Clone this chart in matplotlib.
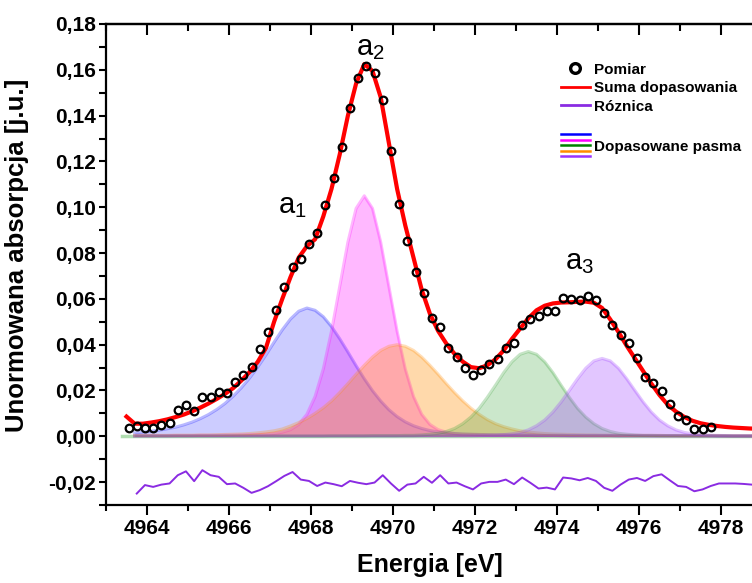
import numpy as np
import matplotlib
matplotlib.use("Agg")
import matplotlib.pyplot as plt
from matplotlib.ticker import MultipleLocator, FuncFormatter
from matplotlib.legend_handler import HandlerBase
from matplotlib.lines import Line2D

plt.rcParams['font.family'] = ['Liberation Sans', 'DejaVu Sans']

# Pomiar (punkty co 0.2 eV od 4963.55)
meas_x0 = 4963.55
meas_y = [0.0034, 0.0045, 0.0038, 0.0036, 0.0049, 0.0060, 0.0113, 0.0138, 0.0110, 0.0173,
          0.0170, 0.0193, 0.0190, 0.0237, 0.0269, 0.0304, 0.0379, 0.0454, 0.0552, 0.0651,
          0.0741, 0.0774, 0.0840, 0.0888, 0.1010, 0.1126, 0.1264, 0.1435, 0.1563, 0.1615,
          0.1586, 0.1468, 0.1246, 0.1015, 0.0854, 0.0716, 0.0626, 0.0517, 0.0479, 0.0385,
          0.0346, 0.0299, 0.0266, 0.0291, 0.0317, 0.0339, 0.0386, 0.0407, 0.0487, 0.0510,
          0.0523, 0.0546, 0.0546, 0.0604, 0.0600, 0.0597, 0.0611, 0.0596, 0.0539, 0.0484,
          0.0444, 0.0408, 0.0343, 0.0261, 0.0232, 0.0197, 0.0142, 0.0088, 0.0070, 0.0032,
          0.0031, 0.0041]

# Suma dopasowania (co 0.2 eV od 4963.5)
fit_x0 = 4963.5
fit_y = [0.0086, 0.0055, 0.0055, 0.0060, 0.0066, 0.0074, 0.0084, 0.0095, 0.0109, 0.0125,
         0.0143, 0.0163, 0.0185, 0.0210, 0.0243, 0.0280, 0.0325, 0.0385, 0.0500, 0.0600,
         0.0695, 0.0780, 0.0830, 0.0860, 0.0960, 0.1080, 0.1230, 0.1400, 0.1540, 0.1625,
         0.1595, 0.1480, 0.1280, 0.1080, 0.0920, 0.0780, 0.0640, 0.0535, 0.0460, 0.0405,
         0.0360, 0.0326, 0.0302, 0.0297, 0.0310, 0.0336, 0.0375, 0.0425, 0.0470, 0.0515,
         0.0550, 0.0570, 0.0580, 0.0584, 0.0585, 0.0587, 0.0588, 0.0583, 0.0560, 0.0510,
         0.0455, 0.0395, 0.0340, 0.0285, 0.0230, 0.0180, 0.0138, 0.0108, 0.0085, 0.0068,
         0.0057, 0.0050, 0.0045, 0.0041, 0.0038, 0.0036, 0.0034, 0.0033, 0.0032]

# Roznica (co 0.2 eV od 4963.75)
diff_x0 = 4963.75
diff_y = [-0.0250, -0.0213, -0.0221, -0.0211, -0.0206, -0.0170, -0.0153, -0.0196, -0.0148, -0.0170,
          -0.0177, -0.0209, -0.0206, -0.0225, -0.0247, -0.0235, -0.0218, -0.0196, -0.0173, -0.0156,
          -0.0189, -0.0195, -0.0217, -0.0202, -0.0209, -0.0218, -0.0195, -0.0203, -0.0209, -0.0202,
          -0.0170, -0.0206, -0.0238, -0.0211, -0.0206, -0.0177, -0.0203, -0.0170, -0.0206, -0.0202,
          -0.0218, -0.0232, -0.0206, -0.0199, -0.0199, -0.0189, -0.0209, -0.0180, -0.0203, -0.0228,
          -0.0224, -0.0232, -0.0180, -0.0184, -0.0192, -0.0182, -0.0195, -0.0225, -0.0238, -0.0211,
          -0.0189, -0.0182, -0.0195, -0.0174, -0.0166, -0.0192, -0.0217, -0.0221, -0.0240, -0.0232,
          -0.0217, -0.0206, -0.0206, -0.0206, -0.0208, -0.0211, -0.0213]

# Dopasowane pasma (co 0.2 eV od 4963.7)
band_x0 = 4963.7
band_blue = [0.0015, 0.0018, 0.0022, 0.0027, 0.0033, 0.0040, 0.0050, 0.0062, 0.0077, 0.0095,
             0.0117, 0.0143, 0.0175, 0.0212, 0.0254, 0.0302, 0.0355, 0.0411, 0.0465, 0.0512,
             0.0546, 0.0560, 0.0550, 0.0522, 0.0479, 0.0426, 0.0368, 0.0308, 0.0251, 0.0199,
             0.0154, 0.0116, 0.0086, 0.0063, 0.0046, 0.0034, 0.0025, 0.0019, 0.0015, 0.0012,
             0.0010, 0.0009, 0.0008, 0.0007, 0.0006, 0.0006, 0.0005, 0.0005, 0.0005, 0.0004,
             0.0004, 0.0004, 0.0004, 0.0003, 0.0003, 0.0003, 0.0003, 0.0003, 0.0003, 0.0002,
             0.0002, 0.0002, 0.0002, 0.0002, 0.0002, 0.0002, 0.0002, 0.0002, 0.0002, 0.0002,
             0.0002, 0.0001, 0.0001, 0.0001, 0.0001, 0.0001, 0.0001, 0.0001]
band_magenta = [0.0002, 0.0002, 0.0002, 0.0002, 0.0002, 0.0003, 0.0003, 0.0003, 0.0004, 0.0004,
                0.0004, 0.0005, 0.0005, 0.0006, 0.0007, 0.0008, 0.0009, 0.0012, 0.0018, 0.0029,
                0.0052, 0.0096, 0.0174, 0.0294, 0.0459, 0.0654, 0.0848, 0.0995, 0.1050, 0.0995,
                0.0848, 0.0654, 0.0459, 0.0294, 0.0174, 0.0096, 0.0052, 0.0029, 0.0018, 0.0012,
                0.0009, 0.0008, 0.0007, 0.0006, 0.0005, 0.0005, 0.0004, 0.0004, 0.0004, 0.0003,
                0.0003, 0.0003, 0.0002, 0.0002, 0.0002, 0.0002, 0.0002, 0.0002, 0.0002, 0.0002,
                0.0002, 0.0002, 0.0002, 0.0001, 0.0001, 0.0001, 0.0001, 0.0001, 0.0001, 0.0001,
                0.0001, 0.0001, 0.0001, 0.0001, 0.0001, 0.0001, 0.0001, 0.0001]
band_orange = [0.0004, 0.0004, 0.0004, 0.0004, 0.0004, 0.0005, 0.0005, 0.0005, 0.0006, 0.0006,
               0.0007, 0.0008, 0.0009, 0.0010, 0.0012, 0.0015, 0.0019, 0.0024, 0.0032, 0.0045,
               0.0060, 0.0078, 0.0100, 0.0125, 0.0155, 0.0191, 0.0230, 0.0271, 0.0310, 0.0346,
               0.0375, 0.0393, 0.0400, 0.0393, 0.0375, 0.0346, 0.0310, 0.0271, 0.0230, 0.0191,
               0.0155, 0.0123, 0.0096, 0.0073, 0.0055, 0.0042, 0.0032, 0.0024, 0.0019, 0.0015,
               0.0012, 0.0010, 0.0009, 0.0008, 0.0007, 0.0006, 0.0006, 0.0005, 0.0005, 0.0005,
               0.0004, 0.0004, 0.0004, 0.0004, 0.0004, 0.0003, 0.0003, 0.0003, 0.0003, 0.0003,
               0.0003, 0.0003, 0.0002, 0.0002, 0.0002, 0.0002, 0.0002, 0.0002]
band_green = [0.0001, 0.0001, 0.0001, 0.0001, 0.0001, 0.0001, 0.0001, 0.0001, 0.0001, 0.0001,
              0.0001, 0.0001, 0.0001, 0.0001, 0.0001, 0.0001, 0.0001, 0.0001, 0.0001, 0.0001,
              0.0001, 0.0001, 0.0001, 0.0001, 0.0002, 0.0002, 0.0002, 0.0002, 0.0002, 0.0003,
              0.0003, 0.0003, 0.0003, 0.0004, 0.0004, 0.0006, 0.0009, 0.0013, 0.0021, 0.0034,
              0.0055, 0.0084, 0.0122, 0.0170, 0.0223, 0.0278, 0.0325, 0.0358, 0.0370, 0.0358,
              0.0325, 0.0278, 0.0223, 0.0170, 0.0122, 0.0084, 0.0055, 0.0034, 0.0021, 0.0013,
              0.0009, 0.0006, 0.0004, 0.0004, 0.0003, 0.0003, 0.0003, 0.0002, 0.0002, 0.0002,
              0.0002, 0.0002, 0.0002, 0.0001, 0.0001, 0.0001, 0.0001, 0.0001]
band_purple = [0.0001, 0.0001, 0.0001, 0.0001, 0.0001, 0.0001, 0.0001, 0.0001, 0.0001, 0.0001,
               0.0001, 0.0001, 0.0001, 0.0001, 0.0001, 0.0001, 0.0001, 0.0001, 0.0001, 0.0001,
               0.0001, 0.0001, 0.0001, 0.0001, 0.0001, 0.0001, 0.0001, 0.0001, 0.0001, 0.0001,
               0.0001, 0.0001, 0.0001, 0.0001, 0.0001, 0.0002, 0.0002, 0.0002, 0.0002, 0.0002,
               0.0002, 0.0002, 0.0003, 0.0004, 0.0005, 0.0007, 0.0011, 0.0017, 0.0028, 0.0046,
               0.0071, 0.0106, 0.0150, 0.0200, 0.0251, 0.0297, 0.0329, 0.0340, 0.0329, 0.0297,
               0.0251, 0.0200, 0.0150, 0.0106, 0.0071, 0.0046, 0.0028, 0.0017, 0.0011, 0.0007,
               0.0005, 0.0004, 0.0003, 0.0002, 0.0002, 0.0002, 0.0002, 0.0002]

base_x = [4963.4, 4979.1]
base_y = [0.0, 0.0]

x_ticks = [4964, 4966, 4968, 4970, 4972, 4974, 4976, 4978]

peak_labels = ['a_1', 'a_2', 'a_3']
peak_lx = [4967.55, 4969.45, 4974.55]
peak_ly = [0.1005, 0.1695, 0.0760]

meas_x = meas_x0 + 0.2 * np.arange(len(meas_y))
fit_x = fit_x0 + 0.2 * np.arange(len(fit_y))
diff_x = diff_x0 + 0.2 * np.arange(len(diff_y))
band_x = band_x0 + 0.2 * np.arange(len(band_blue))

bands = [(band_blue, '#0000ff', 0.20), (band_magenta, '#ff00ff', 0.28),
         (band_orange, '#ff8c00', 0.33), (band_green, '#33a033', 0.25),
         (band_purple, '#9933ff', 0.28)]

W, H = 752, 583
fig = plt.figure(figsize=(W / 100, H / 100), dpi=100)
ax = fig.add_axes([106 / W, 78 / H, 697 / W, 481 / H])

ax.plot(base_x, base_y, color='#90d090', lw=2.5, alpha=0.7, zorder=1)
for vals, col, a in bands:
    ax.fill_between(band_x, 0, vals, color=col, alpha=a, lw=0, zorder=2)
    ax.plot(band_x, vals, color=col, alpha=0.28, lw=2.2, zorder=2)

ax.plot(diff_x, diff_y, color='#8a2be2', lw=1.4, zorder=3)
ax.plot(fit_x, fit_y, color='#ff0000', lw=3.0, zorder=4)
ax.plot(meas_x, meas_y, 'o', mfc='none', mec='black', ms=5.5, mew=1.6, zorder=5)

for lab, lx, ly in zip(peak_labels, peak_lx, peak_ly):
    ax.text(lx, ly, r'$\mathregular{' + lab + '}$', fontsize=21, ha='center', va='center')

ax.set_xlim(4963, 4980)
ax.set_ylim(-0.03, 0.18)
ax.set_xticks(x_ticks)
ax.xaxis.set_minor_locator(MultipleLocator(1))
ax.yaxis.set_major_locator(MultipleLocator(0.02))
ax.yaxis.set_minor_locator(MultipleLocator(0.01))
ax.yaxis.set_major_formatter(FuncFormatter(lambda v, p: f"{v:.2f}".replace('.', ',')))

for s in ax.spines.values():
    s.set_linewidth(1.6)
ax.tick_params(axis='x', which='major', direction='out', length=7, width=1.5, pad=3,
               labelsize=15)
ax.tick_params(axis='x', which='minor', direction='out', length=4, width=1.5)
ax.tick_params(axis='y', which='both', direction='out', length=5, width=1.5, pad=2,
               labelsize=15)
for lbl in ax.get_xticklabels() + ax.get_yticklabels():
    lbl.set_fontweight('bold')

top = ax.secondary_xaxis('top')
top.set_xticks(x_ticks)
top.xaxis.set_minor_locator(MultipleLocator(1))
top.tick_params(axis='x', which='major', direction='in', length=8, width=1.5, labeltop=False)
top.tick_params(axis='x', which='minor', direction='in', length=5, width=1.5)
top.spines['top'].set_linewidth(1.6)

ax.set_xlabel('Energia [eV]', fontsize=18, fontweight='bold')
ax.xaxis.set_label_coords(0.465, -0.1)
ax.set_ylabel('Unormowana absorpcja [j.u.]', fontsize=18.5, fontweight='bold')
ax.yaxis.set_label_coords(-0.11, 0.52)

# legenda
h1 = Line2D([], [], ls='none', marker='o', mfc='none', mec='black', ms=7, mew=2.4)
h2 = Line2D([], [], color='#ff0000', lw=2)
h3 = Line2D([], [], color='#8a2be2', lw=2)
leg1 = ax.legend([h1, h2, h3], ['Pomiar', 'Suma dopasowania', 'Róznica'],
                 loc='upper left', bbox_to_anchor=(553 / W, 1 - 55 / H),
                 bbox_transform=fig.transFigure, frameon=False, handlelength=1.9,
                 handletextpad=0.3, labelspacing=0.3, borderpad=0,
                 prop={'weight': 'bold', 'size': 11})
ax.add_artist(leg1)


class BandsKey:
    pass


class BandsHandler(HandlerBase):
    def create_artists(self, legend, orig_handle, xdescent, ydescent, width, height,
                       fontsize, trans):
        cols = ['#0000ff', '#ff00ff', '#008000', '#ff8c00', '#9933ff']
        arts = []
        for i, c in enumerate(cols):
            y = height / 2 - ydescent + (2 - i) * 4.0
            arts.append(Line2D([-xdescent, width - xdescent], [y, y], color=c, lw=1.8,
                               transform=trans))
        return arts


leg2 = ax.legend([BandsKey()], ['Dopasowane pasma'], handler_map={BandsKey: BandsHandler()},
                 loc='upper left', bbox_to_anchor=(553 / W, 1 - 132 / H),
                 bbox_transform=fig.transFigure, frameon=False, handlelength=1.9,
                 handletextpad=0.3, borderpad=0, prop={'weight': 'bold', 'size': 11})

fig.savefig('out.png', dpi=100)
